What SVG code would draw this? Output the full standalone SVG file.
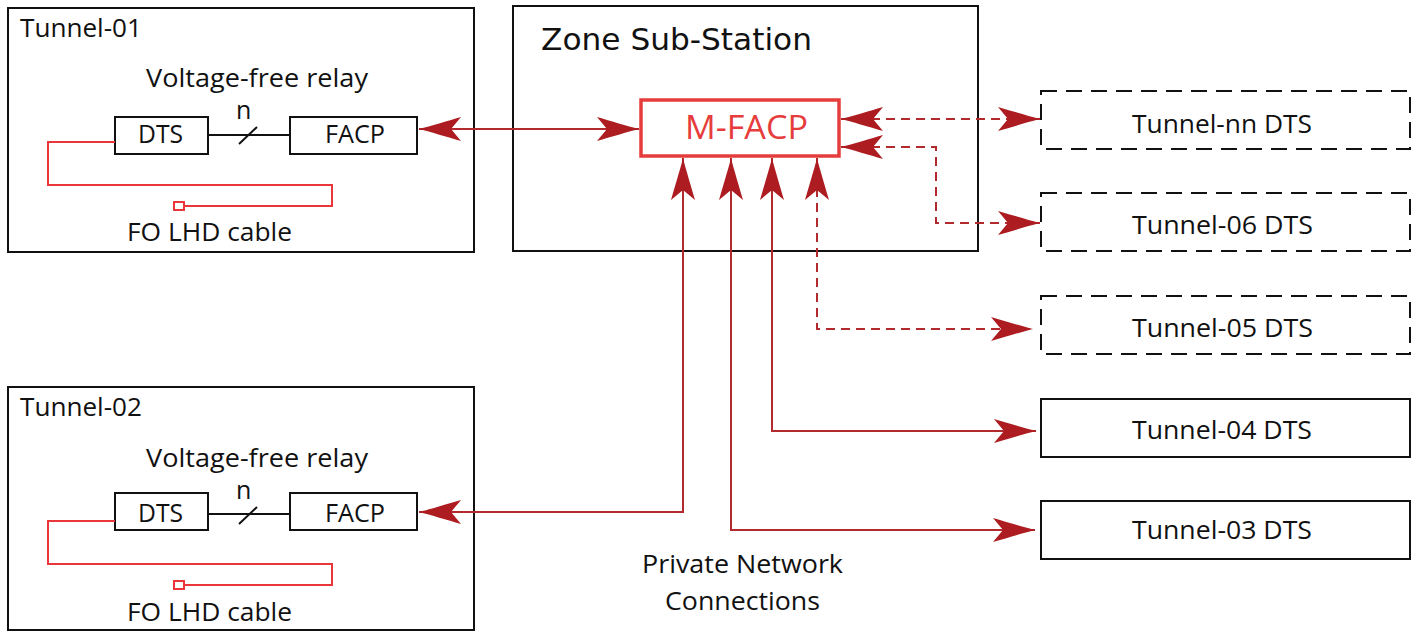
<svg xmlns="http://www.w3.org/2000/svg" width="1422" height="632" viewBox="0 0 1422 632">
<style>
.box{fill:none;stroke:#111;stroke-width:2}
.dbox{fill:none;stroke:#111;stroke-width:2;stroke-dasharray:16 9}
.t{font-family:'Open Sans','DejaVu Sans',sans-serif;font-size:25px;fill:#111}
.zt{font-family:'DejaVu Sans','Open Sans',sans-serif;font-size:30px;fill:#111}
.mt{font-family:'Open Sans','DejaVu Sans',sans-serif;font-size:33px;fill:#e63c3c}
.fib{fill:none;stroke:#e8363a;stroke-width:2}
.wire{fill:none;stroke:#111;stroke-width:2}
.con{fill:none;stroke:#b32a2e;stroke-width:2;marker-start:url(#ah);marker-end:url(#ah)}
.dash{stroke-dasharray:9 6}
</style>
<defs>
<marker id="ah" markerUnits="userSpaceOnUse" orient="auto-start-reverse" refX="0" refY="0" markerWidth="60" markerHeight="40" viewBox="-50 -20 60 40" overflow="visible">
<path d="M0,0 C-12,-3 -28,-8 -42,-12 L-32,0 L-42,12 C-28,8 -12,3 0,0 Z" fill="#ad1c20" stroke="none"/>
</marker>
</defs>
<rect width="1422" height="632" fill="#fff"/>

<g id="tunnel-01">
<rect class="box" x="8" y="8" width="466" height="244"/>
<text class="t" x="20" y="37" textLength="122" lengthAdjust="spacingAndGlyphs">Tunnel-01</text>
<text class="t" x="146" y="87" textLength="222" lengthAdjust="spacingAndGlyphs">Voltage-free relay</text>
<g id="t01-dts"><rect class="box" x="115" y="117" width="93" height="37"/>
<text class="t" x="138" y="143" textLength="45" lengthAdjust="spacingAndGlyphs">DTS</text></g>
<g id="t01-facp"><rect class="box" x="290" y="117" width="127" height="37"/>
<text class="t" x="325" y="143" textLength="60" lengthAdjust="spacingAndGlyphs">FACP</text></g>
<path class="wire" d="M208,135 H290 M239,144 L257,127"/>
<text class="t" x="236" y="119">n</text>
<path class="fib" d="M115,142 H48 V185 H332 V206 H184"/>
<rect class="fib" x="174" y="202" width="10" height="8"/>
<text class="t" x="127" y="241" textLength="165" lengthAdjust="spacingAndGlyphs">FO LHD cable</text>
</g>

<g id="tunnel-02">
<rect class="box" x="8" y="387" width="466" height="243"/>
<text class="t" x="20" y="416" textLength="122" lengthAdjust="spacingAndGlyphs">Tunnel-02</text>
<text class="t" x="146" y="467" textLength="222" lengthAdjust="spacingAndGlyphs">Voltage-free relay</text>
<g id="t02-dts"><rect class="box" x="115" y="493" width="93" height="37"/>
<text class="t" x="138" y="522" textLength="45" lengthAdjust="spacingAndGlyphs">DTS</text></g>
<g id="t02-facp"><rect class="box" x="290" y="493" width="127" height="37"/>
<text class="t" x="325" y="522" textLength="60" lengthAdjust="spacingAndGlyphs">FACP</text></g>
<path class="wire" d="M208,514 H290 M239,524 L257,507"/>
<text class="t" x="236" y="499">n</text>
<path class="fib" d="M115,521 H48 V564 H332 V585 H184"/>
<rect class="fib" x="174" y="581" width="10" height="8"/>
<text class="t" x="127" y="621" textLength="165" lengthAdjust="spacingAndGlyphs">FO LHD cable</text>
</g>

<g id="zone-sub-station">
<rect class="box" x="513" y="6" width="465" height="245"/>
<text class="zt" x="541" y="50" textLength="271" lengthAdjust="spacingAndGlyphs">Zone Sub-Station</text>
</g>

<g id="m-facp">
<rect x="641" y="100" width="198" height="56" fill="#fff" stroke="#e63c3c" stroke-width="3.5"/>
<text class="mt" x="685" y="139" textLength="123" lengthAdjust="spacingAndGlyphs">M-FACP</text>
</g>

<g id="tunnel-nn-dts">
<rect class="dbox" x="1041" y="91" width="369" height="58"/>
<text class="t" x="1132" y="133" textLength="180" lengthAdjust="spacingAndGlyphs">Tunnel-nn DTS</text>
</g>
<g id="tunnel-06-dts">
<rect class="dbox" x="1041" y="193" width="369" height="58"/>
<text class="t" x="1132" y="234" textLength="181" lengthAdjust="spacingAndGlyphs">Tunnel-06 DTS</text>
</g>
<g id="tunnel-05-dts">
<rect class="dbox" x="1041" y="296" width="369" height="58"/>
<text class="t" x="1132" y="337" textLength="181" lengthAdjust="spacingAndGlyphs">Tunnel-05 DTS</text>
</g>
<g id="tunnel-04-dts">
<rect class="box" x="1041" y="399" width="369" height="58"/>
<text class="t" x="1132" y="439" textLength="180" lengthAdjust="spacingAndGlyphs">Tunnel-04 DTS</text>
</g>
<g id="tunnel-03-dts">
<rect class="box" x="1041" y="501" width="369" height="58"/>
<text class="t" x="1132" y="539" textLength="180" lengthAdjust="spacingAndGlyphs">Tunnel-03 DTS</text>
</g>

<g id="label-private">
<text class="t" x="642" y="573" textLength="201" lengthAdjust="spacingAndGlyphs">Private Network</text>
<text class="t" x="665" y="610" textLength="155" lengthAdjust="spacingAndGlyphs">Connections</text>
</g>

<g id="connectors">
<path class="con" d="M419,129 H639"/>
<path class="con" d="M683,158 V512 H419"/>
<path class="con" d="M731,158 V530 H1035"/>
<path class="con" d="M772,158 V431 H1036"/>
<path class="con dash" d="M817,158 V329 H1033"/>
<path class="con dash" d="M841,147 H936 V223 H1040"/>
<path class="con dash" d="M841,119 H1040"/>
</g>
</svg>
